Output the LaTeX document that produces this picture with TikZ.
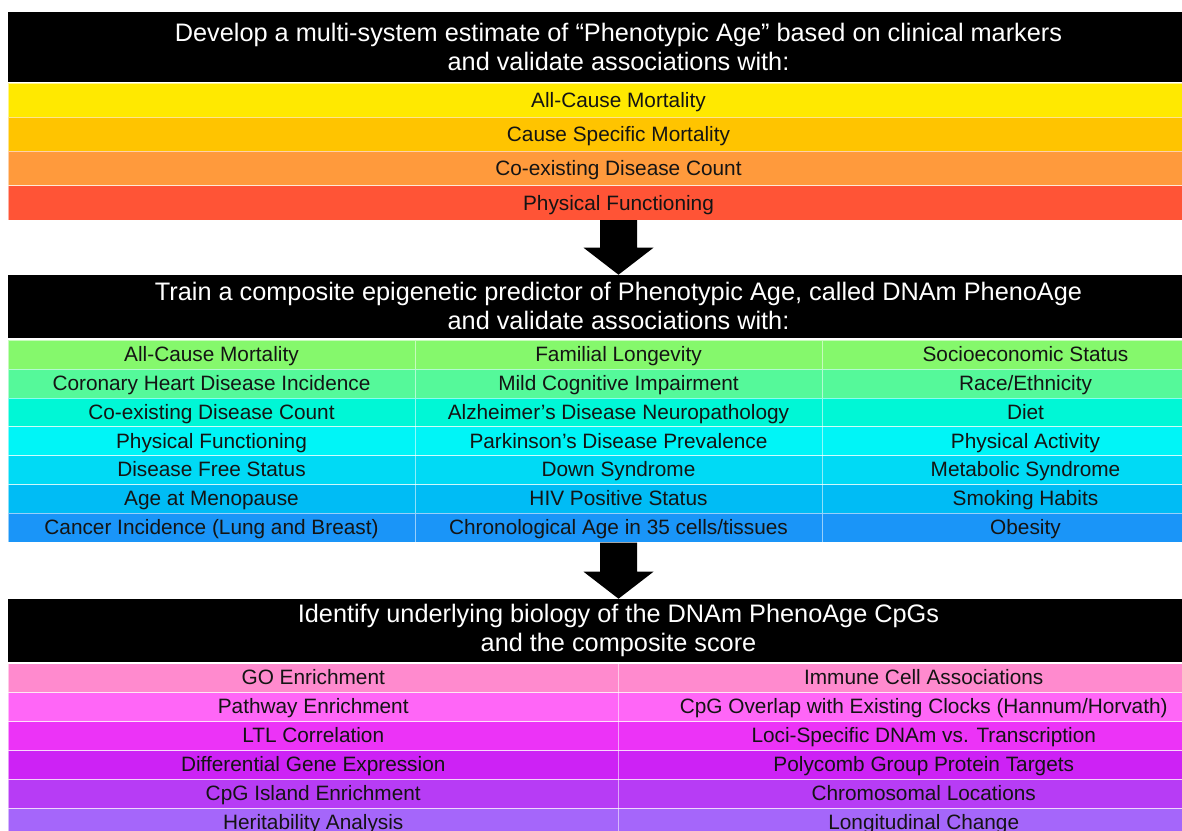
\documentclass[tikz,border=0pt]{standalone}
\usepackage{fontspec}
\setmainfont{Liberation Sans}
\usetikzlibrary{matrix,positioning,calc}

\definecolor{oA}{HTML}{FFE900}
\definecolor{oB}{HTML}{FFC400}
\definecolor{oC}{HTML}{FF9A3C}
\definecolor{oD}{HTML}{FF5436}
\definecolor{gA}{HTML}{85F86C}
\definecolor{gB}{HTML}{55F99A}
\definecolor{gC}{HTML}{00F7D6}
\definecolor{gD}{HTML}{00F5F7}
\definecolor{gE}{HTML}{00DAF5}
\definecolor{gF}{HTML}{00BCF5}
\definecolor{gG}{HTML}{1A95F8}
\definecolor{pA}{HTML}{FF8ACE}
\definecolor{pB}{HTML}{FF66F7}
\definecolor{pC}{HTML}{EC33F7}
\definecolor{pD}{HTML}{CD22F5}
\definecolor{pE}{HTML}{B73CF5}
\definecolor{pF}{HTML}{A566FA}

\tikzset{
	hdr/.style={fill=black, text=white, minimum width=1221pt, inner sep=0pt, outer sep=0pt, align=center, font=\fontsize{25.3}{29}\selectfont},
	cell/.style={draw=white, draw opacity=0.55, line width=0.7pt, inner sep=0pt, outer sep=0pt, anchor=center, text height=18pt, text depth=4.4pt, font=\fontsize{20.8}{24}\selectfont, text=black!92},
	grid/.style={matrix of nodes, inner sep=0pt, outer sep=0pt, row sep=-0.7pt, column sep=-0.7pt},
}

\begin{document}
\begin{tikzpicture}[x=1pt, y=-1pt]
		\useasboundingbox (0,0) rectangle (1182,830);
		\clip (0,0) rectangle (1182,830);
		\fill[white] (0,0) rectangle (1182,830);

		% first stage
		\node[hdr, minimum height=69.5pt] (h1) at (618.5,46.75) {Develop a multi-system estimate of “Phenotypic Age” based on clinical markers\\and validate associations with:};
		\matrix (m1) [grid, below=1pt of h1, nodes={cell, minimum width=1221pt, minimum height=34.25pt, text height=19pt},
			row 1/.style={nodes={fill=oA}}, row 2/.style={nodes={fill=oB}}, row 3/.style={nodes={fill=oC}}, row 4/.style={nodes={fill=oD}}]
		{
				All-Cause Mortality \\
				Cause Specific Mortality \\
				Co-existing Disease Count \\
				Physical Functioning \\
			};

		% second stage
		\node[hdr, minimum height=63.5pt, below=54.5pt of m1] (h2) {Train a composite epigenetic predictor of Phenotypic Age, called DNAm PhenoAge\\and validate associations with:};
		\matrix (m2) [grid, below=1.5pt of h2, nodes={cell, minimum width=407pt, minimum height=28.9pt},
			row 1/.style={nodes={fill=gA}}, row 2/.style={nodes={fill=gB}}, row 3/.style={nodes={fill=gC}}, row 4/.style={nodes={fill=gD}},
			row 5/.style={nodes={fill=gE}}, row 6/.style={nodes={fill=gF}}, row 7/.style={nodes={fill=gG}}]
		{
				All-Cause Mortality                & Familial Longevity                   & Socioeconomic Status \\
				Coronary Heart Disease Incidence   & Mild Cognitive Impairment            & Race/Ethnicity       \\
				Co-existing Disease Count          & Alzheimer’s Disease Neuropathology   & Diet                 \\
				Physical Functioning               & Parkinson’s Disease Prevalence       & Physical Activity    \\
				Disease Free Status                & Down Syndrome                        & Metabolic Syndrome   \\
				Age at Menopause                   & HIV Positive Status                  & Smoking Habits       \\
				Cancer Incidence (Lung and Breast) & Chronological Age in 35 cells/tissues & Obesity             \\
			};

		% third stage
		\node[hdr, minimum height=63.5pt, below=56pt of m2] (h3) {Identify underlying biology of the DNAm PhenoAge CpGs\\and the composite score};
		\matrix (m3) [grid, below=1pt of h3, nodes={cell, minimum width=610.5pt, minimum height=29pt},
			row 1/.style={nodes={fill=pA}}, row 2/.style={nodes={fill=pB}}, row 3/.style={nodes={fill=pC}}, row 4/.style={nodes={fill=pD}},
			row 5/.style={nodes={fill=pE}}, row 6/.style={nodes={fill=pF}}]
		{
				GO Enrichment                & Immune Cell Associations                         \\
				Pathway Enrichment           & CpG Overlap with Existing Clocks (Hannum/Horvath) \\
				LTL Correlation              & Loci-Specific DNAm vs. Transcription             \\
				Differential Gene Expression & Polycomb Group Protein Targets                   \\
				CpG Island Enrichment        & Chromosomal Locations                            \\
				Heritability Analysis        & Longitudinal Change                              \\
			};

		% block arrows between the stages
		\foreach \a/\b in {m1/h2, m2/h3}
		\fill ($(\a.south)+(-18.5,0)$) -- ($(\b.north)+(-18.5,-27)$) -- ($(\b.north)+(-35,-27)$) -- (\b.north)
			-- ($(\b.north)+(35,-27)$) -- ($(\b.north)+(18.5,-27)$) -- ($(\a.south)+(18.5,0)$) -- cycle;
	\end{tikzpicture}
\end{document}
